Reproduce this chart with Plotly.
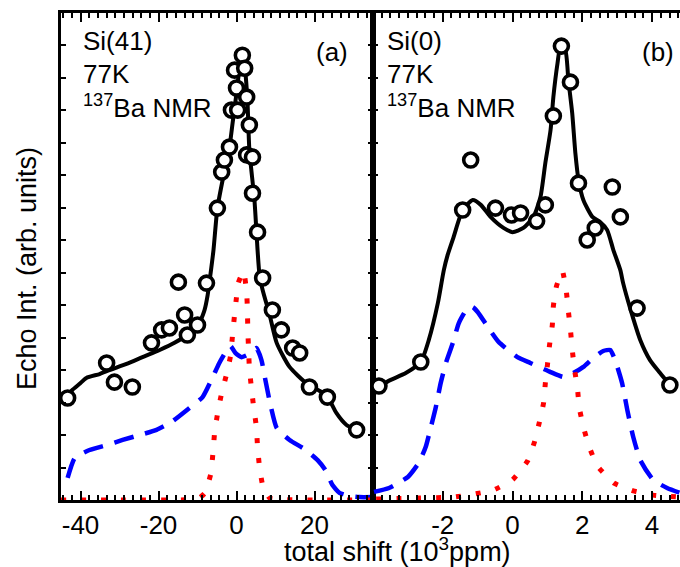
import plotly.graph_objects as go

# ---------------- Panel (a): Si(41) ----------------
a_circ_x = [-43.3, -33.3, -31.3, -26.7, -21.8, -19.2, -17.2, -14.9, -13.3, -12.6, -10.0, -7.7,
            -4.9, -3.8, -3.1, -1.8, -1.3, -0.5, 0.0, 0.3, 1.5, 2.1, 2.6, 2.6, 3.3, 4.1, 4.1,
            5.4, 6.7, 9.2, 11.5, 14.4, 16.2, 18.7, 23.3, 30.8]
a_circ_y = [3.14, 4.22, 3.63, 3.48, 4.84, 5.24, 5.30, 6.71, 5.70, 5.08, 5.39, 6.68,
            8.99, 10.10, 10.47, 10.87, 12.01, 13.24, 12.69, 12.01, 13.70, 13.30, 12.41, 10.63, 11.55, 10.56, 9.45,
            8.25, 6.84, 5.85, 5.24, 4.68, 4.53, 3.48, 3.17, 2.16]

a_fit_x = [-43.3, -42.1, -40.3, -38.5, -35.1, -32.6, -28.2, -24.1, -19.7, -15.9, -12.1, -9.5, -8.2,
           -7.4, -6.7, -5.9, -4.9, -3.3, -1.8, -1.0, 0.0, 0.8, 1.3, 2.1, 2.8, 3.3, 4.6, 5.4, 5.9,
           6.7, 8.5, 10.3, 13.6, 17.9, 22.1, 23.8, 25.6, 28.2, 30.8]
a_fit_y = [3.23, 3.39, 3.57, 3.76, 3.88, 4.00, 4.19, 4.40, 4.62, 4.84, 5.14, 5.48, 5.85,
           6.31, 6.93, 7.70, 8.99, 10.01, 10.87, 11.61, 12.53, 13.34, 13.77, 13.34, 12.32, 10.78, 9.24, 7.70, 6.93,
           6.47, 5.70, 4.84, 4.10, 3.60, 3.30, 3.08, 2.68, 2.31, 2.16]

a_blue_x = [-43.3, -41.5, -37.7, -33.3, -29.2, -24.9, -20.5, -16.7, -12.1, -8.7, -6.2, -4.4, -2.3,
            -1.5, -0.3, 1.3, 3.3, 5.1, 6.4, 7.4, 8.7, 10.3, 13.6, 17.4, 20.8, 22.8, 24.6, 26.4,
            29.0, 31.5, 35.0]
a_blue_y = [0.68, 1.29, 1.54, 1.69, 1.85, 2.00, 2.16, 2.40, 2.83, 3.17, 3.76, 4.22, 4.65,
            4.74, 4.53, 4.40, 4.50, 4.68, 4.31, 3.70, 2.93, 2.22, 1.85, 1.57, 1.23, 0.92, 0.46, 0.22,
            0.12, 0.09, 0.09]

a_red_x = [-45.0, -30.0, -15.0, -10.0, -8.2, -6.6, -6.0, -5.6, -4.8, -3.8, -2.6, -1.5, -1.0, -0.5,
           0.0, 0.5, 1.8, 2.6, 2.8, 2.9, 3.1, 3.3, 3.8, 4.4, 5.1, 5.4, 5.9, 6.7, 8.5, 20.0, 35.0]
a_red_y = [0.0, 0.0, 0.0, 0.03, 0.2, 0.8, 1.5, 2.1, 2.7, 3.3, 3.85, 4.45, 5.1, 5.7,
           6.25, 6.7, 7.05, 6.41, 5.85, 5.24, 4.62, 4.07, 3.48, 2.86, 2.25, 1.63, 1.02, 0.46, 0.06, 0.0, 0.0]

# ---------------- Panel (b): Si(0) ----------------
b_circ_x = [-3.83, -2.63, -1.43, -1.20, -0.49, -0.03, 0.23, 0.69, 0.94, 1.17, 1.40, 1.66,
            1.89, 2.14, 2.37, 2.86, 3.09, 3.57, 4.51]
b_circ_y = [3.51, 4.25, 8.93, 10.47, 8.99, 8.78, 8.84, 8.59, 9.09, 11.83, 13.98, 12.87,
            9.76, 8.01, 8.38, 9.64, 8.72, 5.91, 3.54]

b_fit_x = [-3.83, -3.49, -3.06, -2.63, -2.40, -2.14, -1.97, -1.86, -1.69, -1.43, -1.14, -0.91,
           -0.63, -0.26, 0.0, 0.31, 0.60, 0.80, 0.94, 1.09, 1.17, 1.29, 1.37, 1.51, 1.60, 1.71,
           1.80, 1.89, 2.03, 2.29, 2.51, 2.71, 2.89, 3.09, 3.17, 3.37, 3.66, 3.94, 4.23, 4.51]
b_fit_y = [3.51, 3.70, 3.91, 4.25, 4.93, 6.07, 7.08, 7.55, 8.10, 8.93, 9.24, 9.09,
           8.72, 8.38, 8.25, 8.38, 8.72, 9.33, 10.38, 11.40, 12.41, 13.46, 13.95, 13.86, 12.94, 11.92,
           10.69, 9.86, 9.24, 8.72, 8.56, 8.32, 7.70, 7.08, 6.68, 5.91, 4.93, 4.31, 3.91, 3.54]

b_blue_x = [-3.97, -3.54, -3.00, -2.69, -2.49, -2.34, -2.20, -2.06, -1.91, -1.71, -1.54, -1.29,
            -1.14, -1.00, -0.69, -0.40, 0.14, 0.51, 1.09, 1.46, 1.74, 2.03, 2.31, 2.60, 2.80,
            2.94, 3.14, 3.29, 3.46, 3.66, 4.03, 4.43, 4.80]
b_blue_y = [0.25, 0.37, 0.71, 1.14, 1.63, 2.25, 2.86, 3.60, 4.22, 4.84, 5.45, 5.91,
            5.94, 5.79, 5.30, 4.87, 4.40, 4.22, 3.94, 3.79, 3.91, 4.10, 4.37, 4.59, 4.62,
            4.31, 3.60, 2.77, 1.94, 1.23, 0.62, 0.37, 0.22]

b_red_x = [-3.91, -2.77, -1.69, -1.11, -0.54, 0.0, 0.43, 0.63, 0.77, 0.89, 0.94, 1.00, 1.06,
           1.14, 1.17, 1.26, 1.43, 1.54, 1.60, 1.66, 1.71, 1.77, 1.86, 1.91, 2.03, 2.20, 2.43,
           2.91, 3.46, 4.03, 4.80]
b_red_y = [0.03, 0.06, 0.09, 0.18, 0.31, 0.62, 1.20, 1.79, 2.40, 2.99, 3.60, 4.16, 4.77,
           5.39, 5.97, 6.59, 7.05, 6.44, 5.82, 5.24, 4.65, 4.07, 3.45, 2.86, 2.25, 1.63, 1.05,
           0.52, 0.28, 0.15, 0.09]

a_xticks = [-40, -20, 0, 20]
a_xticktext = ["-40", "-20", "0", "20"]
b_xticks = [-2, 0, 2, 4]
b_xticktext = ["-2", "0", "2", "4"]

FONT = "Liberation Sans, Arial, sans-serif"
BLUE = "#0000ff"
RED = "#ff0000"

fig = go.Figure()

def add_panel(suffix, bx, by, rx, ry, fx, fy, cx, cy):
    xa = "x" + suffix
    ya = "y" + suffix
    fig.add_trace(go.Scatter(x=bx, y=by, mode="lines", xaxis=xa, yaxis=ya,
                             line=dict(color=BLUE, width=4.5, dash="20px,12px", shape="spline", smoothing=0.5),
                             showlegend=False, hoverinfo="skip"))
    fig.add_trace(go.Scatter(x=rx, y=ry, mode="lines", xaxis=xa, yaxis=ya,
                             line=dict(color=RED, width=5, dash="5px,15px", shape="spline", smoothing=0.4),
                             showlegend=False, hoverinfo="skip"))
    fig.add_trace(go.Scatter(x=fx, y=fy, mode="lines", xaxis=xa, yaxis=ya,
                             line=dict(color="black", width=4, shape="spline", smoothing=0.6),
                             showlegend=False, hoverinfo="skip"))
    fig.add_trace(go.Scatter(x=cx, y=cy, mode="markers", xaxis=xa, yaxis=ya,
                             marker=dict(symbol="circle", size=14, color="white",
                                         line=dict(color="black", width=3.6)),
                             showlegend=False, cliponaxis=False))

add_panel("", a_blue_x, a_blue_y, a_red_x, a_red_y, a_fit_x, a_fit_y, a_circ_x, a_circ_y)
add_panel("2", b_blue_x, b_blue_y, b_red_x, b_red_y, b_fit_x, b_fit_y, b_circ_x, b_circ_y)

W, H = 680, 567
L, R, T, B = 61, 0, 13, 67
pw = W - L - R
split = (373 - L) / pw

common_x = dict(showline=True, linecolor="black", linewidth=3, mirror="ticks",
                ticks="inside", ticklen=9, tickwidth=2, tickcolor="black",
                showgrid=False, zeroline=False, automargin=False,
                tickfont=dict(family=FONT, size=26, color="black"))
common_y = dict(showline=True, linecolor="black", linewidth=3,
                ticks="inside", ticklen=5, tickwidth=2, tickcolor="black",
                showgrid=False, zeroline=False, showticklabels=False, automargin=False,
                range=[0, 15], dtick=1, tick0=0)

fig.update_layout(
    template="none",
    width=W, height=H,
    margin=dict(l=L, r=R, t=T, b=B, pad=0, autoexpand=False),
    paper_bgcolor="white", plot_bgcolor="white",
    font=dict(family=FONT, color="black"),
    xaxis=dict(domain=[0, split], range=[-45, 35], tickvals=a_xticks, ticktext=a_xticktext,
               minor=dict(dtick=20 / 9, tick0=0, ticks="inside", ticklen=5, tickwidth=2,
                          tickcolor="black", showgrid=False),
               **common_x),
    xaxis2=dict(domain=[split, 1], range=[-4, 4.8], tickvals=b_xticks, ticktext=b_xticktext,
                anchor="y2",
                minor=dict(dtick=0.25, tick0=0, ticks="inside", ticklen=5, tickwidth=2,
                           tickcolor="black", showgrid=False),
                **common_x),
    yaxis=dict(domain=[0, 1], anchor="x", mirror="ticks", **common_y),
    yaxis2=dict(domain=[0, 1], anchor="x2", mirror=False, **common_y),
)

def px_x(p):
    return (p - L) / pw

def px_y(p):
    return (H - B - p) / (H - B - T)

ann_font = dict(family=FONT, size=26, color="black")
title_font = dict(family=FONT, size=27, color="black")
texts = [
    ("Si(41)", 81, 41, "left"), ("77K", 81, 74, "left"), ("<sup>137</sup>Ba NMR", 81, 106, "left"),
    ("(a)", 332, 52, "center"),
    ("Si(0)", 385, 41, "left"), ("77K", 385, 74, "left"), ("<sup>137</sup>Ba NMR", 385, 106, "left"),
    ("(b)", 658, 52, "center"),
]
for t, x, y, anc in texts:
    fig.add_annotation(text=t, x=px_x(x), y=px_y(y), xref="paper", yref="paper",
                       xanchor=anc, yanchor="middle", showarrow=False, font=ann_font)

fig.add_annotation(text="total shift (10<sup>3</sup>ppm)", x=px_x(397), y=px_y(550),
                   xref="paper", yref="paper", xanchor="center", yanchor="middle",
                   showarrow=False, font=title_font)
fig.add_annotation(text="Echo Int. (arb. units)", x=px_x(27), y=px_y(269),
                   xref="paper", yref="paper", xanchor="center", yanchor="middle",
                   textangle=-90, showarrow=False, font=title_font)

fig.write_html("out.html", config={"displayModeBar": False},
               post_script="document.body.style.margin='0';document.body.style.padding='0';"
                           "document.body.style.overflow='hidden';")
